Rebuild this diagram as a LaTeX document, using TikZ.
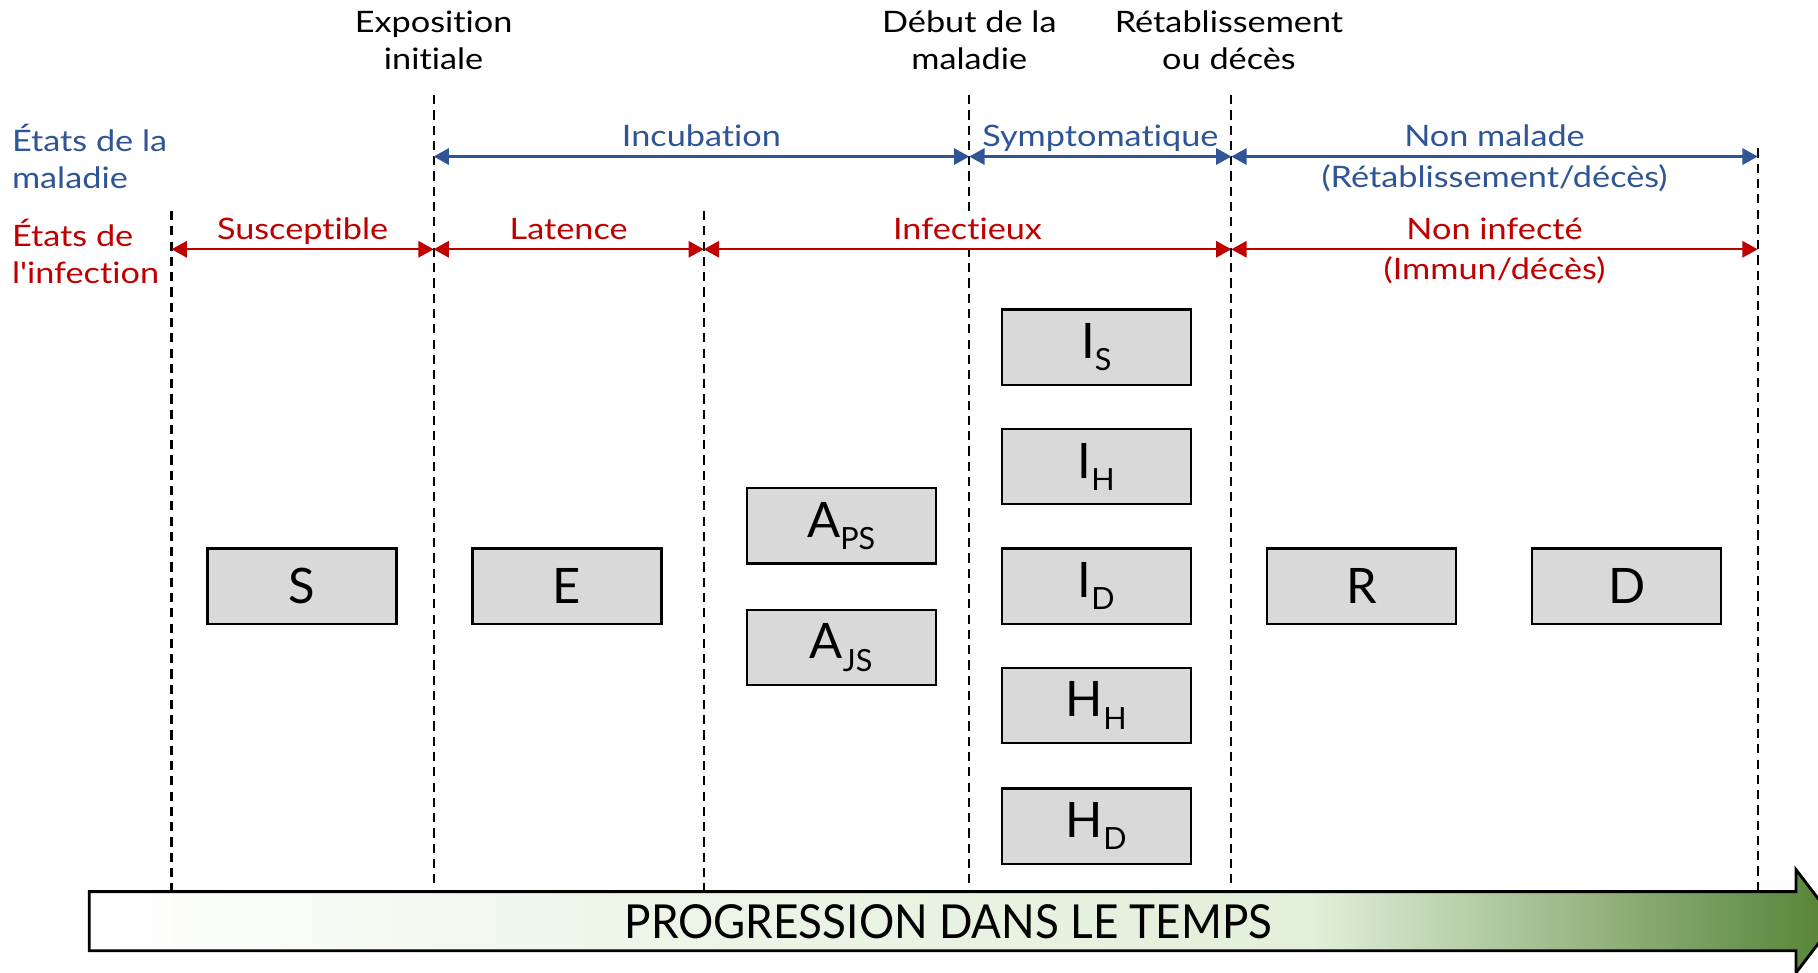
\documentclass[tikz,border=0pt]{standalone}
\usepackage{fontspec}
\setmainfont{Lato}[Ligatures=NoCommon]
\newfontfamily\lblfont{Lato}[FakeStretch=1.16,Ligatures=NoCommon]
\newfontfamily\barfont{Lato}[FakeStretch=0.94]
\usepackage{xcolor}
\usetikzlibrary{arrows.meta,backgrounds}
\pgfdeclarelayer{edgelayer}
\pgfdeclarelayer{nodelayer}
\pgfsetlayers{background,edgelayer,nodelayer,main}
\definecolor{sickblue}{HTML}{2F5597}
\definecolor{infred}{HTML}{C00000}
\definecolor{boxgray}{HTML}{D9D9D9}
\definecolor{palegreen}{HTML}{E2EFDA}
\definecolor{deepgreen}{HTML}{548235}
\pgfdeclarehorizontalshading{timeshade}{100bp}{color(0bp)=(white); color(25bp)=(white); color(40bp)=(palegreen!60!white); color(60bp)=(palegreen); color(75bp)=(deepgreen); color(100bp)=(deepgreen)}
\newcommand{\cmpt}[2]{#1\raisebox{-0.25em}{\fontsize{15}{15}\selectfont #2}}
\tikzstyle{every picture}=[x=0.02cm,y=-0.02cm]
\tikzstyle{tick}=[dash pattern=on 4.5pt off 3pt,line width=1.1pt]
\tikzstyle{span}=[line width=1.1pt,>={Triangle[length=7.5pt,width=8pt]},<->]
\tikzstyle{bluespan}=[span,draw=sickblue]
\tikzstyle{redspan}=[span,draw=infred]
\tikzstyle{uplbl}=[anchor=base,yshift=5pt,inner sep=0pt]
\tikzstyle{downlbl}=[anchor=base,yshift=-15pt,inner sep=0pt]
\tikzstyle{milestone}=[align=center]
\tikzstyle{rowname}=[align=left,anchor=west,inner sep=0pt]
\tikzstyle{cbox}=[draw=black,line width=1.1pt,fill=boxgray,minimum width=3.26cm,minimum height=1.3cm,inner sep=0pt,font=\fontsize{24}{24}\selectfont]
\tikzstyle{timebar}=[draw=black,line width=1.4pt,shading=timeshade]

\begin{document}
\begin{tikzpicture}[font=\lblfont\fontsize{14.5}{18.2}\selectfont]
	\useasboundingbox (0,0) rectangle (1568,839);
	\clip (0,0) rectangle (1568,839);
	\begin{pgfonlayer}{nodelayer}
		\node [style=milestone] (expo) at (374, 35) {Exposition\\initiale};
		\node [style=milestone] (onset) at (836, 35) {Début de la\\maladie};
		\node [style=milestone] (recov) at (1060, 35) {Rétablissement\\ou décès};
		\node [style=rowname,text=sickblue] (rowdis) at (10, 135) {États de la\\maladie};
		\node [style=rowname,text=infred] (rowinf) at (10, 217) {États de\\l'infection};
		\node [style=cbox] (S) at (260.5, 505.5) {S};
		\node [style=cbox] (E) at (489, 505.5) {E};
		\node [style=cbox] (Aps) at (725.5, 453.5) {\cmpt{A}{PS}};
		\node [style=cbox] (Ajs) at (725.5, 558.5) {\cmpt{A}{JS}};
		\node [style=cbox] (Is) at (945.5, 299.5) {\cmpt{I}{S}};
		\node [style=cbox] (Ih) at (945.5, 402.5) {\cmpt{I}{H}};
		\node [style=cbox] (Id) at (945.5, 505.5) {\cmpt{I}{D}};
		\node [style=cbox] (Hh) at (945.5, 608.5) {\cmpt{H}{H}};
		\node [style=cbox] (Hd) at (945.5, 712.5) {\cmpt{H}{D}};
		\node [style=cbox] (R) at (1174.5, 505.5) {R};
		\node [style=cbox] (D) at (1403, 505.5) {D};
	\end{pgfonlayer}
	\coordinate (v1) at (148, 182);
	\coordinate (v2) at (374, 82);
	\coordinate (v3) at (607, 182);
	\coordinate (v4) at (836, 82);
	\coordinate (v5) at (1062, 82);
	\coordinate (v6) at (1516, 128);
	\coordinate (w1) at (148, 768);
	\coordinate (w2) at (374, 768);
	\coordinate (w3) at (607, 768);
	\coordinate (w4) at (836, 768);
	\coordinate (w5) at (1062, 768);
	\coordinate (w6) at (1516, 768);
	\coordinate (b1) at (374, 135);
	\coordinate (b2) at (836, 135);
	\coordinate (b3) at (1062, 135);
	\coordinate (b4) at (1516, 135);
	\coordinate (r1) at (148, 215);
	\coordinate (r2) at (374, 215);
	\coordinate (r3) at (607, 215);
	\coordinate (r4) at (1062, 215);
	\coordinate (r5) at (1516, 215);
	\begin{pgfonlayer}{edgelayer}
		\foreach \i in {1,...,6}
			\draw [style=tick] (v\i) to (w\i);
		\draw [style=bluespan] (b1) to node[uplbl,text=sickblue] {Incubation} (b2);
		\draw [style=bluespan] (b2) to node[uplbl,text=sickblue] {Symptomatique} (b3);
		\draw [style=bluespan] (b3) to node[uplbl,text=sickblue] {Non malade} node[downlbl,text=sickblue] {(Rétablissement/décès)} (b4);
		\draw [style=redspan] (r1) to node[uplbl,text=infred] {Susceptible} (r2);
		\draw [style=redspan] (r2) to node[uplbl,text=infred] {Latence} (r3);
		\draw [style=redspan] (r3) to node[uplbl,text=infred,fill=white,inner xsep=3pt,text height=12pt,text depth=4pt] {Infectieux} (r4);
		\draw [style=redspan] (r4) to node[uplbl,text=infred] {Non infecté} node[downlbl,text=infred] {(Immun/décès)} (r5);
	\end{pgfonlayer}
	\path [style=timebar] (77, 769) -- (1549, 769) -- (1549, 750) -- (1583, 794.5) -- (1549, 839) -- (1549, 820) -- (77, 820) -- cycle;
	\node [font=\barfont\fontsize{23}{23}\selectfont] (progress) at (818, 795) {PROGRESSION DANS LE TEMPS};
\end{tikzpicture}
\end{document}
